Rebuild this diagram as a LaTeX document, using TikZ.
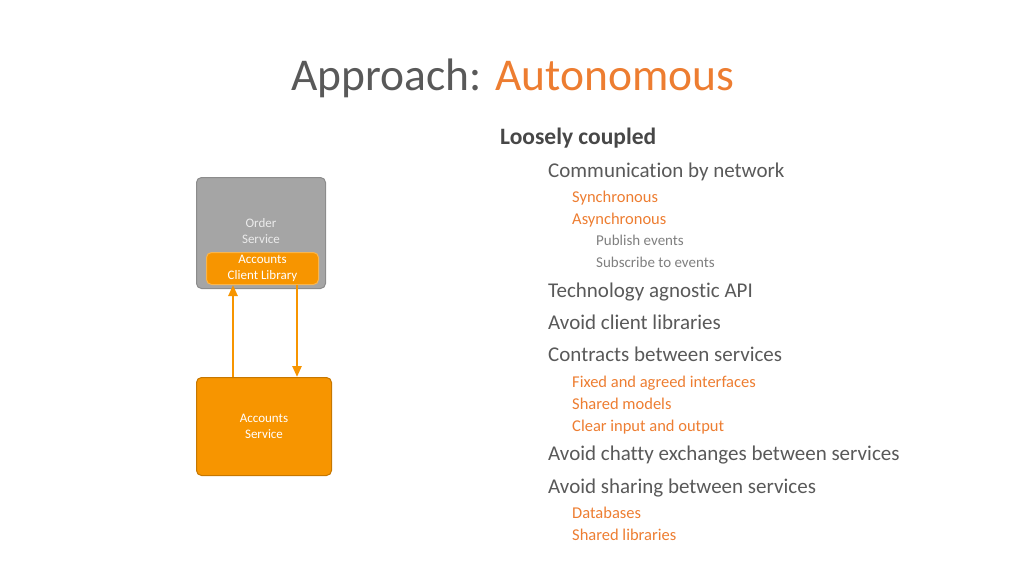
\documentclass[tikz,border=0pt]{standalone}
\usepackage{fontspec}
\setmainfont{Carlito}[Ligatures=NoCommon]
\usetikzlibrary{arrows.meta}

\definecolor{txtgray}{HTML}{595959}
\definecolor{subgray}{HTML}{7F7F7F}
\definecolor{accent}{HTML}{ED7D31}
\definecolor{boxgray}{HTML}{A5A5A5}
\definecolor{boxorange}{HTML}{F79500}

\tikzset{
    svcbox/.style = {draw, rounded corners=5pt, line width=1pt, align=center, text=white, font=\fontsize{13}{15.5}\selectfont},
    item0/.style = {anchor=base west, inner sep=0, text=txtgray!80!black, font=\bfseries\fontsize{23.5}{23.5}\selectfont},
    item1/.style = {anchor=base west, inner sep=0, text=txtgray, font=\fontsize{21}{21}\selectfont},
    item2/.style = {anchor=base west, inner sep=0, text=accent, font=\fontsize{16.5}{16.5}\selectfont},
    item3/.style = {anchor=base west, inner sep=0, text=subgray, font=\fontsize{15}{15}\selectfont},
    link/.style = {draw=boxorange, line width=2.4pt, -{Triangle[width=9pt, length=11pt]}}
}

\begin{document}
\begin{tikzpicture}[x=1pt, y=-1pt]
    \useasboundingbox (0, 0) rectangle (1024, 576);

    % title
    \node[anchor=base, inner sep=0, font=\fontsize{45.5}{45.5}\selectfont] (title) at (513, 90)
        {\textcolor{txtgray}{Approach:} \textcolor{accent}{Autonomous}};

    % services
    \node[svcbox, draw=boxgray!85!black, fill=boxgray, minimum width=129pt, minimum height=111pt, anchor=north west] (order) at (196, 177) {};
    \node[align=center, text=white!92!black, font=\fontsize{13}{15.5}\selectfont] (orderlbl) at (261, 231) {Order\\Service};
    \node[svcbox, draw=boxorange!70!white, fill=boxorange, minimum width=112pt, minimum height=32pt, anchor=north west, inner sep=1pt] (client) at (206, 252) {Accounts\\Client Library};
    \node[svcbox, draw=boxorange!80!black, fill=boxorange, minimum width=135pt, minimum height=98pt, anchor=north west] (accounts) at (196, 377) {Accounts\\Service};

    \draw[link] ([xshift=37pt]accounts.north west) -- ([xshift=27pt]client.south west);
    \draw[link] ([xshift=91pt]client.south west) -- ([xshift=101pt]accounts.north west);

    % bullet list
    \foreach \lvl/\xx/\yy/\txt [count=\i] in {
        0/500/144/Loosely coupled,
        1/548/177/Communication by network,
        2/572/202/Synchronous,
        2/572/224/Asynchronous,
        3/596/245/Publish events,
        3/596/267/Subscribe to events,
        1/548/297/Technology agnostic API,
        1/548/329/Avoid client libraries,
        1/548/361/Contracts between services,
        2/572/387/Fixed and agreed interfaces,
        2/572/409/Shared models,
        2/572/431/Clear input and output,
        1/548/460/Avoid chatty exchanges between services,
        1/548/493/Avoid sharing between services,
        2/572/518/Databases,
        2/572/540/Shared libraries} {
        \node[item\lvl] (item\i) at (\xx, \yy) {\txt};
    }
\end{tikzpicture}
\end{document}
